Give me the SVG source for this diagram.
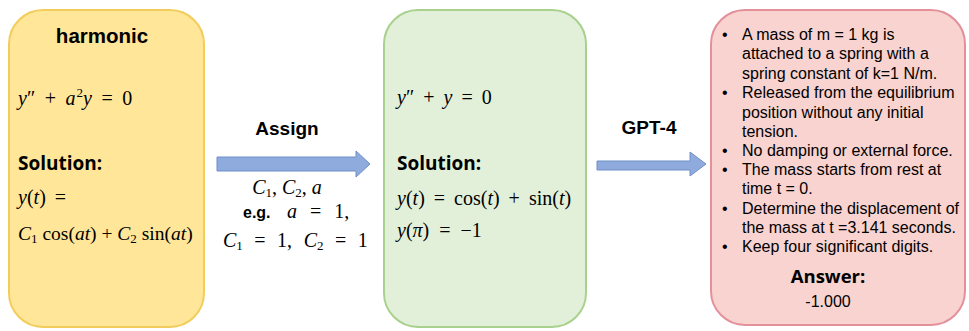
<svg xmlns="http://www.w3.org/2000/svg" width="969" height="331" viewBox="0 0 969 331">
<style>
.m{font-family:"Liberation Serif","DejaVu Serif",serif;font-size:20px;fill:#000}
.i{font-style:italic}
.sub{font-size:13px}
.hd{font-family:"Open Sans","Noto Sans",sans-serif;font-weight:bold;font-size:19px;fill:#000}
.lb{font-family:"Liberation Sans",Arial,sans-serif;font-weight:bold;font-size:19px;fill:#000}
.t{font-family:"Liberation Sans",Arial,sans-serif;font-size:16px;fill:#000}
.arr{fill:#8FAADC;stroke:#6F8FC8;stroke-width:1}
</style>
<rect width="969" height="331" fill="#ffffff"/>
<g id="connectors">
<polygon class="arr" points="217,157 356,157 356,151 370,164 356,177 356,171 217,171"/>
<polygon class="arr" points="597,161 690,161 690,152 706,164 690,176 690,170 597,170"/>
</g>
<g id="harmonic">
<rect x="9" y="10" width="195" height="317" rx="34" fill="#FFE699" stroke="#F2CD5C" stroke-width="2"/>
<text class="lb" x="102" y="43" text-anchor="middle" style="font-size:20.5px">harmonic</text>
<text class="m" x="18" y="105" style="word-spacing:4.5px"><tspan class="i">y</tspan>″ + <tspan class="i">a</tspan><tspan dy="-8" dx="1" style="font-size:13px">2</tspan><tspan dy="8" class="i">y</tspan> = 0</text>
<text class="hd" x="18" y="170">Solution:</text>
<text class="m" x="18" y="204" style="word-spacing:4px"><tspan class="i">y</tspan>(<tspan class="i">t</tspan>) =</text>
<text class="m" x="18" y="240" style="font-size:19.5px"><tspan class="i">C</tspan><tspan class="sub" dy="3">1</tspan><tspan dy="-3"> cos(</tspan><tspan class="i">at</tspan>) + <tspan class="i">C</tspan><tspan class="sub" dy="3">2</tspan><tspan dy="-3"> sin(</tspan><tspan class="i">at</tspan>)</text>
</g>
<g id="assign">
<text class="lb" x="287" y="135" text-anchor="middle">Assign</text>
<text class="m" x="287" y="194" text-anchor="middle"><tspan class="i">C</tspan><tspan class="sub" dy="3">1</tspan><tspan dy="-3">, </tspan><tspan class="i">C</tspan><tspan class="sub" dy="3">2</tspan><tspan dy="-3">, </tspan><tspan class="i">a</tspan></text>
<text x="243" y="218" font-family="Liberation Sans,Arial,sans-serif" font-weight="bold" font-size="16">e.g.</text>
<text class="m" x="287" y="218" style="word-spacing:8px"><tspan class="i">a</tspan> = 1,</text>
<text class="m" x="223" y="247" style="word-spacing:6.5px"><tspan class="i">C</tspan><tspan class="sub" dy="3">1</tspan><tspan dy="-3"> = 1, </tspan><tspan class="i">C</tspan><tspan class="sub" dy="3">2</tspan><tspan dy="-3"> = 1</tspan></text>
</g>
<g id="specific">
<rect x="384" y="10" width="202" height="317" rx="34" fill="#E2F0D9" stroke="#A9D18E" stroke-width="2"/>
<text class="m" x="397" y="104" style="word-spacing:4px"><tspan class="i">y</tspan>″ + <tspan class="i">y</tspan> = 0</text>
<text class="hd" x="397" y="170">Solution:</text>
<text class="m" x="397" y="205" style="word-spacing:4px"><tspan class="i">y</tspan>(<tspan class="i">t</tspan>) = cos(<tspan class="i">t</tspan>) + sin(<tspan class="i">t</tspan>)</text>
<text class="m" x="397" y="237" style="word-spacing:5px"><tspan class="i">y</tspan>(<tspan class="i">π</tspan>) = −1</text>
</g>
<g id="gpt4">
<text class="lb" x="649" y="134" text-anchor="middle">GPT-4</text>
</g>
<g id="problem">
<rect x="711" y="10" width="254" height="315" rx="34" fill="#F8D3CF" stroke="#E3909B" stroke-width="2"/>
<g class="t">
<text x="722" y="40">•</text><text x="742" y="40">A mass of m = 1 kg is</text>
<text x="742" y="59">attached to a spring with a</text>
<text x="742" y="79">spring constant of k=1 N/m.</text>
<text x="722" y="98">•</text><text x="742" y="98">Released from the equilibrium</text>
<text x="742" y="118">position without any initial</text>
<text x="742" y="137">tension.</text>
<text x="722" y="156">•</text><text x="742" y="156">No damping or external force.</text>
<text x="722" y="175">•</text><text x="742" y="175">The mass starts from rest at</text>
<text x="742" y="194">time t = 0.</text>
<text x="722" y="214">•</text><text x="742" y="214">Determine the displacement of</text>
<text x="742" y="233">the mass at t =3.141 seconds.</text>
<text x="722" y="252">•</text><text x="742" y="252">Keep four significant digits.</text>
</g>
<text class="hd" x="828" y="283" text-anchor="middle" style="font-size:18.5px">Answer:</text>
<text class="t" x="828" y="307" text-anchor="middle">-1.000</text>
</g>
</svg>
